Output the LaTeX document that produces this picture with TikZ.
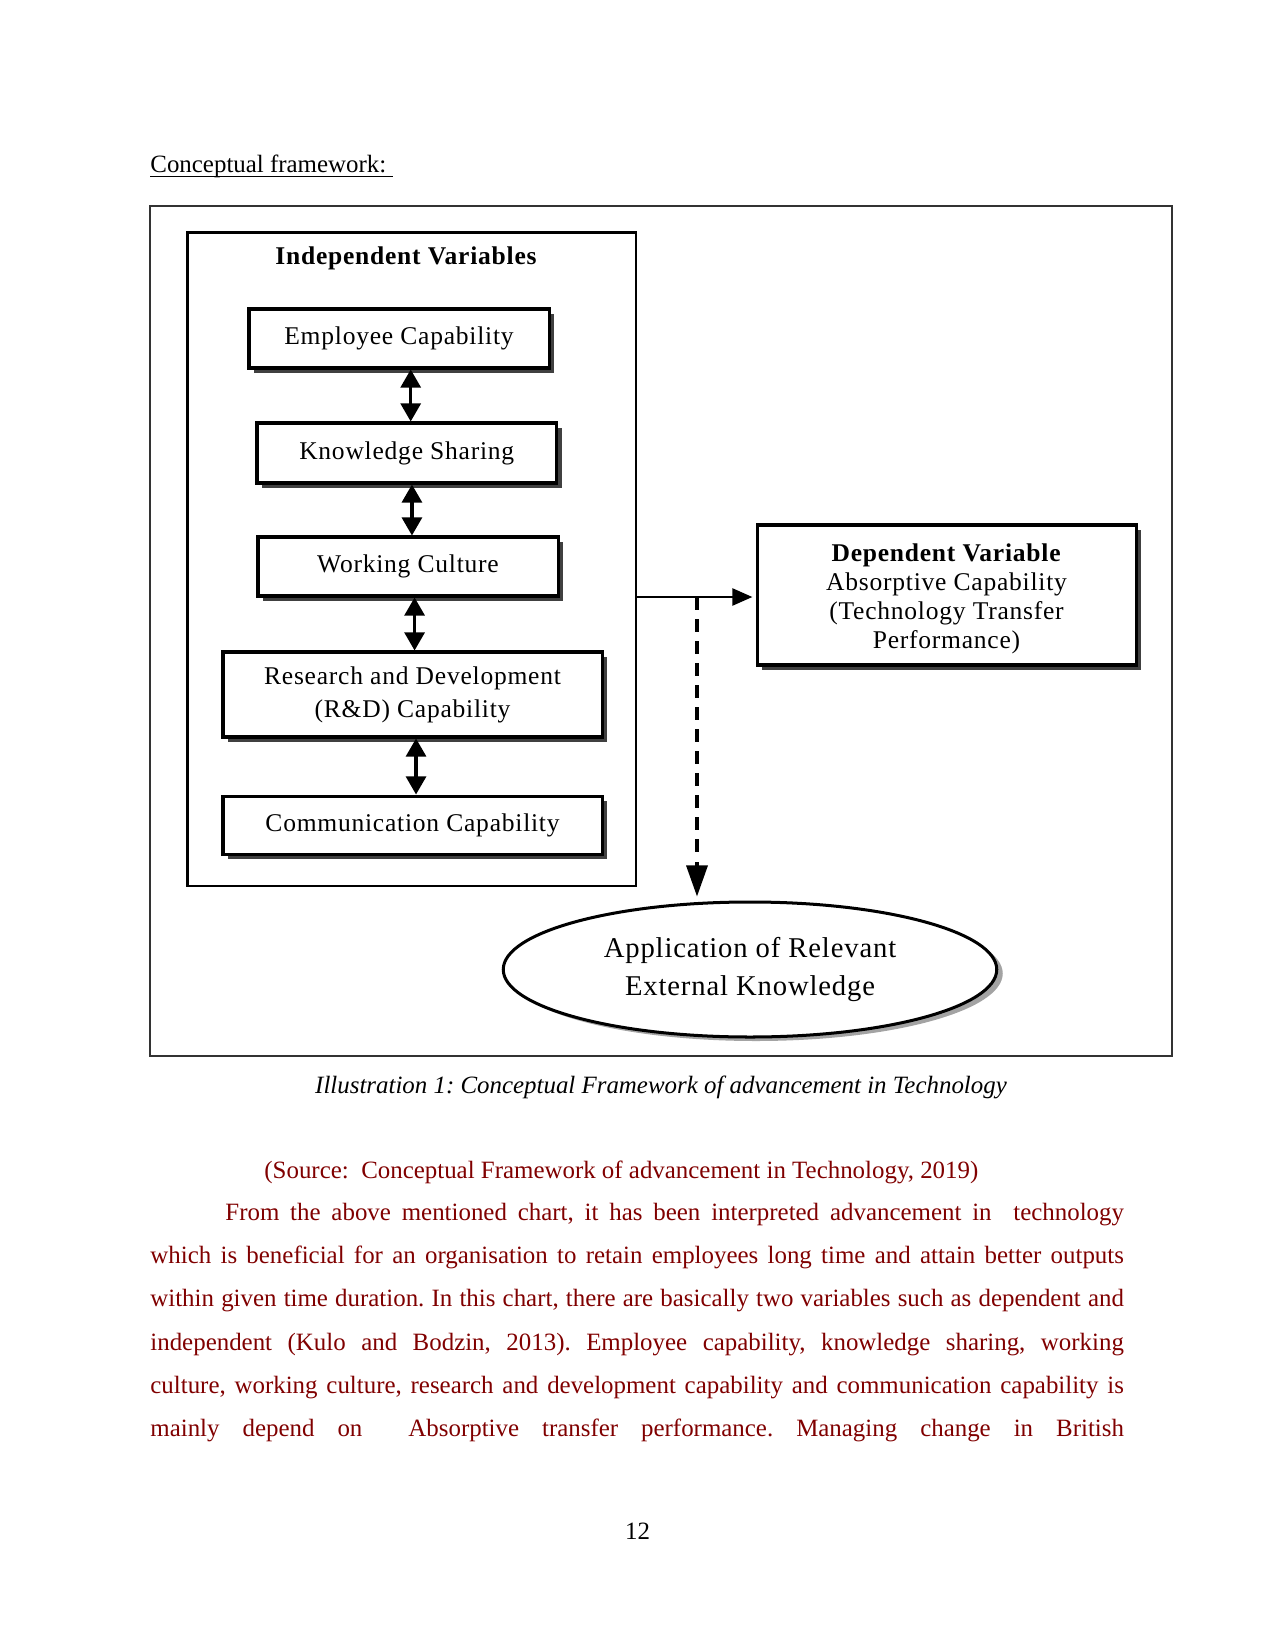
\documentclass[tikz,border=0pt]{standalone}
\usepackage{fontspec}
\setmainfont{Liberation Serif}
\newfontfamily\figfont[LetterSpace=3]{Liberation Serif}
\usetikzlibrary{arrows.meta,shadows,shapes.geometric}
\newlength\pxl
\setlength\pxl{0.4818pt}
\definecolor{bodyred}{RGB}{128,0,0}
\frenchspacing
\tikzset{
  varbox/.style={draw, line width=1.45pt, fill=white, inner sep=0pt, align=center,
    font=\figfont\fontsize{12.3}{15.9}\selectfont,
    drop shadow={shadow xshift=5\pxl, shadow yshift=-5\pxl, fill=black!75, opacity=1}},
  dblarrow/.style={{Triangle[length=8.7pt,width=9.6pt]}-{Triangle[length=8.7pt,width=9.6pt]}, line width=1.5pt},
  onearrow/.style={-{Triangle[length=9.6pt,width=8.2pt]}, line width=1pt},
  bodytext/.style={anchor=base west, inner sep=0pt, text=bodyred, font=\frenchspacing\fontsize{12}{14}\selectfont},
}
\begin{document}
\begin{tikzpicture}[x=0.4818pt, y=-0.4818pt]
    \useasboundingbox (0,0) rectangle (1275,1650);

    % Heading
    \node[anchor=base west, inner sep=0pt, font=\fontsize{12}{14}\selectfont] (head) at (150,173) {Conceptual framework:\ };
    \draw[line width=0.5pt] ([yshift=-1.5pt]head.base west) -- ([yshift=-1.5pt, xshift=3pt]head.base east);

    % Figure frame
    \draw[line width=0.8pt, black!80] (150,206) rectangle (1172,1056);

    % Independent variables
    \node[draw, line width=1.1pt, minimum width=448.5\pxl, minimum height=653.5\pxl, inner sep=0pt] (indep) at (411.75,559.25) {};
    \node[font=\figfont\bfseries\fontsize{12.3}{14}\selectfont] (indeptitle) at (406,258) {Independent Variables};

    \node[varbox, minimum width=300\pxl, minimum height=59\pxl] (emp) at (399,338.5) {Employee Capability};
    \node[varbox, minimum width=299.5\pxl, minimum height=60\pxl] (know) at (406.75,453) {Knowledge Sharing};
    \node[varbox, minimum width=300\pxl, minimum height=59\pxl] (work) at (408,566.5) {Working Culture};
    \node[varbox, minimum width=379\pxl, minimum height=85\pxl] (rnd) at (412.5,694.5) {Research and Development\\(R\&D) Capability};
    \node[varbox, minimum width=379\pxl, minimum height=58\pxl] (comm) at (412.5,825) {Communication Capability};

    \draw[dblarrow] ([xshift=1.9pt]know.north |- emp.south) -- ([xshift=1.9pt]know.north);
    \draw[dblarrow] ([xshift=1.9pt]work.north |- know.south) -- ([xshift=1.9pt]work.north);
    \draw[dblarrow] ([xshift=1pt]rnd.north |- work.south) -- ([xshift=1pt]rnd.north);
    \draw[dblarrow] ([xshift=1.7pt]comm.north |- rnd.south) -- ([xshift=1.7pt]comm.north);

    % Dependent variable
    \node[varbox, minimum width=379\pxl, minimum height=140\pxl, font=\figfont\fontsize{12.3}{14}\selectfont] (dep) at (946.5,595)
        {\rule{0pt}{12.5pt}\textbf{Dependent Variable}\\Absorptive Capability\\(Technology Transfer\\Performance)};

    \coordinate (split) at (697,597);
    \draw[onearrow, shorten >=1.5pt] (indep.east |- split) -- (split) -- (dep.west |- split);

    % Outcome
    \node[draw, ellipse, line width=1.45pt, fill=white, inner sep=0pt, minimum width=493.5\pxl, minimum height=135\pxl,
        font=\figfont\fontsize{13.8}{18.3}\selectfont, align=center,
        drop shadow={shadow xshift=6\pxl, shadow yshift=-4\pxl, fill=black!45, opacity=0.8}] (app) at (750,969.5)
        {Application of Relevant\\External Knowledge};
    \draw[line width=1.7pt, dash pattern=on 6.3pt off 4.3pt] (split) -- (split |- 0,857);
    \draw[-{Triangle[length=15pt,width=10.1pt]}, line width=1.7pt, shorten >=1.9pt] (split |- 0,862) -- (split |- app.north);

    % Caption and source
    \node[anchor=base, inner sep=0pt, font=\frenchspacing\itshape\fontsize{12}{14}\selectfont] (caption) at (661,1093)
        {Illustration 1: Conceptual Framework of advancement in Technology};
    \node[bodytext] (source) at (264,1178) {(Source:\ \ Conceptual Framework of advancement in Technology, 2019)};

    % Paragraph
    \node[bodytext] (line1) at (225,1220) {\makebox[898.5\pxl][s]{From the above mentioned chart, it has been interpreted advancement in\ \ technology}};
    \node[bodytext] (line2) at (150,1263.5) {\makebox[973.5\pxl][s]{which is beneficial for an organisation to retain employees long time and attain better outputs}};
    \node[bodytext] (line3) at (150,1306.7) {\makebox[973.5\pxl][s]{within given time duration. In this chart, there are basically two variables such as dependent and}};
    \node[bodytext] (line4) at (150,1350) {\makebox[973.5\pxl][s]{independent (Kulo and Bodzin, 2013). Employee capability, knowledge sharing, working}};
    \node[bodytext] (line5) at (150,1393) {\makebox[973.5\pxl][s]{culture, working culture, research and development capability and communication capability is}};
    \node[bodytext] (line6) at (150,1436) {\makebox[973.5\pxl][s]{mainly depend on\ \ Absorptive transfer performance. Managing change in British}};

    % Page number
    \node[anchor=base, inner sep=0pt, font=\fontsize{12}{14}\selectfont] (pagenum) at (637.5,1539) {12};
\end{tikzpicture}
\end{document}
